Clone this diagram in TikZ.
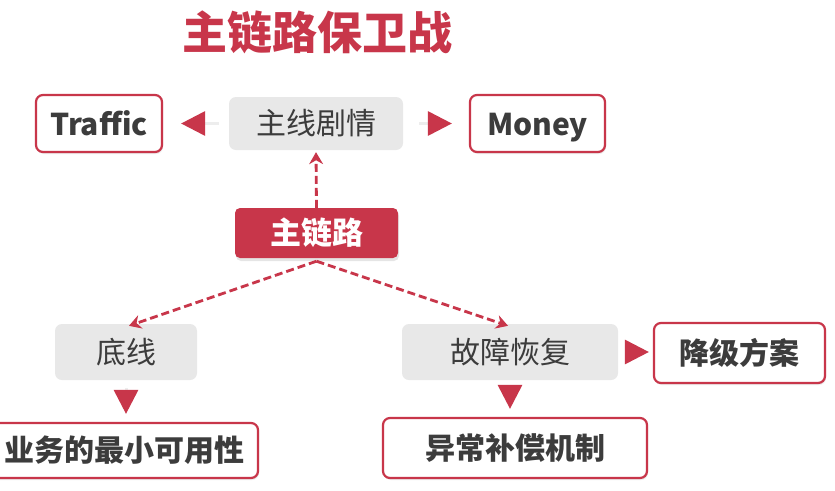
\documentclass[tikz,border=0pt]{standalone}
\usepackage{fontspec}
\setmainfont{Noto Sans CJK SC}
\usetikzlibrary{arrows.meta,shadows}
\definecolor{mainred}{RGB}{200,54,74}
\definecolor{boxgray}{RGB}{232,232,232}
\definecolor{txt}{RGB}{60,60,60}
\tikzset{
  redbox/.style={draw=mainred, line width=2.2pt, fill=white, rounded corners=7pt,
    text=txt, font=\fontsize{30}{32}\selectfont\bfseries, inner sep=0pt,
    drop shadow={shadow xshift=1pt, shadow yshift=-2pt, opacity=0.15}},
  latin/.style={text height=23pt, text depth=0pt},
  graybox/.style={fill=boxgray, rounded corners=7pt, text=txt,
    font=\fontsize{30}{32}\selectfont, inner sep=0pt},
  corebox/.style={fill=mainred, rounded corners=5pt, text=white,
    font=\fontsize{31}{33}\selectfont\bfseries, inner sep=0pt,
    drop shadow={shadow xshift=1pt, shadow yshift=-3pt, opacity=0.2}},
  tri/.style={line width=3pt, draw=black!7,
    -{Triangle[length=24pt, width=24pt, fill=mainred, color=mainred]}},
  dashlink/.style={mainred, line width=2.8pt, dash pattern=on 8pt off 4pt,
    -{Stealth[length=12pt, width=14pt, inset=4pt, line width=1pt]}},
}
\begin{document}
\begin{tikzpicture}[x=1pt, y=-1pt]
\useasboundingbox (0,0) rectangle (835,490);
\fill[white] (0,0) rectangle (835,490);

\node[text=mainred, font=\fontsize{45}{47}\selectfont\bfseries] (title) at (317,32) {主链路保卫战};

\node[redbox, latin, minimum width=126pt, minimum height=57pt] (traffic) at (99,123.5) {Traffic};
\node[graybox, minimum width=174pt, minimum height=53pt] (plot) at (316,123.5) {主线剧情};
\node[redbox, latin, minimum width=135pt, minimum height=57pt] (money) at (537.5,123.5) {Money};

\node[corebox, minimum width=163pt, minimum height=50pt] (core) at (316.5,233) {主链路};

\node[graybox, minimum width=142pt, minimum height=56pt] (base) at (126,352) {底线};
\node[graybox, minimum width=216pt, minimum height=56pt] (fault) at (510,352) {故障恢复};
\node[redbox, minimum width=171pt, minimum height=60pt] (degrade) at (739.5,353) {降级方案};

\node[redbox, minimum width=266pt, minimum height=55pt] (minavail) at (125,450.5) {业务的最小可用性};
\node[redbox, minimum width=264pt, minimum height=60pt] (comp) at (515,448) {异常补偿机制};

% triangle connectors
\draw[tri, shorten <=10pt, shorten >=18pt] (plot.west) -- (traffic.east);
\draw[tri, shorten <=16pt, shorten >=17pt] (plot.east) -- (money.west);
\draw[tri, shorten <=8pt, shorten >=8pt] (base.south) -- (minavail.north -| base.south);
\draw[tri, shorten <=8pt, shorten >=8pt] (fault.south) -- (fault.south |- comp.north);
\draw[tri, shorten <=8pt, shorten >=4pt] (fault.east) -- (degrade.west |- fault.east);

% dashed connectors
\coordinate (corebot) at ([yshift=-3pt]core.south);
\coordinate (basetop) at ([xshift=3pt,yshift=-2pt]base.north);
\coordinate (faulttop) at ([xshift=-2pt,yshift=-2pt]fault.north);
\draw[dashlink] (core.north) -- ([yshift=-2pt]plot.south);
\draw[dashlink] (corebot) -- (basetop);
\draw[dashlink] (corebot) -- (faulttop);
\end{tikzpicture}
\end{document}
